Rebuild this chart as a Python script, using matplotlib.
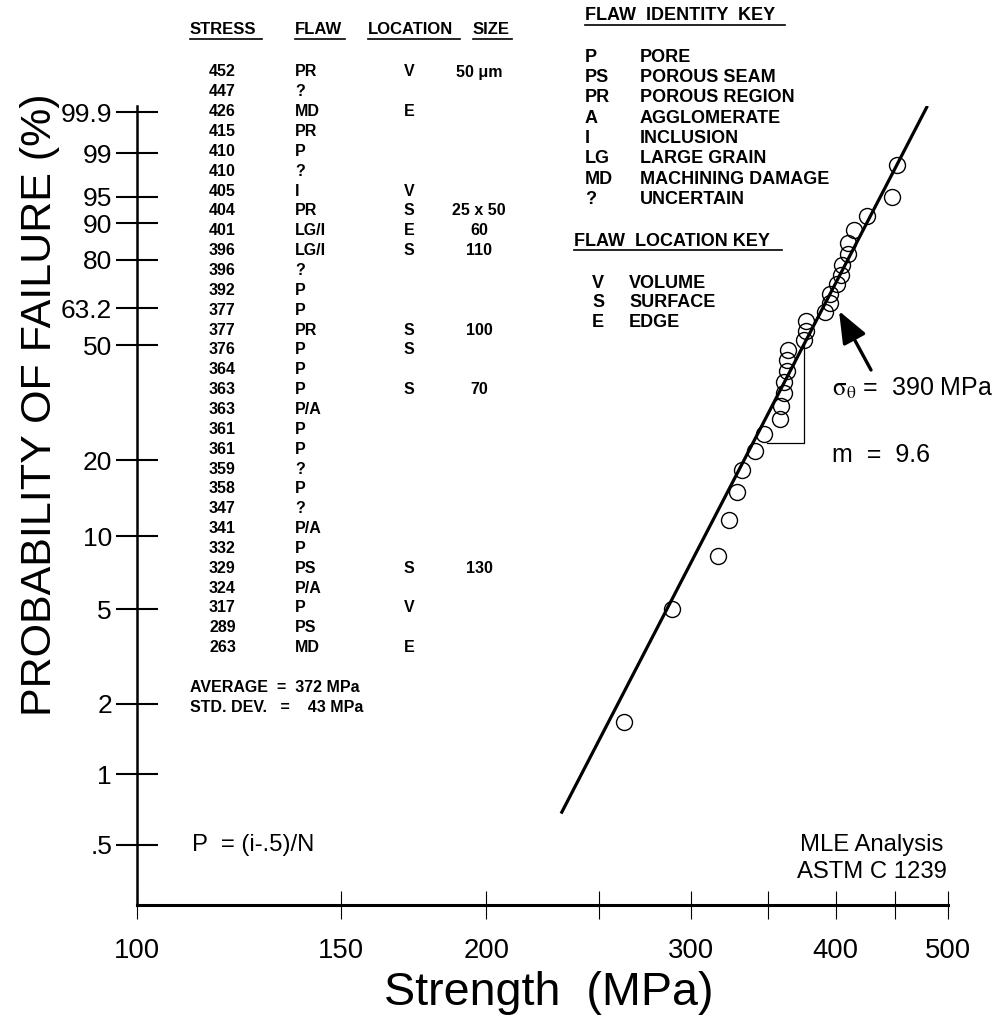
import numpy as np
import matplotlib
matplotlib.use("Agg")
import matplotlib.pyplot as plt
from matplotlib import font_manager
from matplotlib.lines import Line2D

# strength data (MPa) with fractographic flaw info, highest first
stress = [452, 447, 426, 415, 410, 410, 405, 404, 401, 396, 396, 392, 377, 377,
          376, 364, 363, 363, 361, 361, 359, 358, 347, 341, 332, 329, 324, 317,
          289, 263]
flaw = ['PR', '?', 'MD', 'PR', 'P', '?', 'I', 'PR', 'LG/I', 'LG/I', '?', 'P', 'P', 'PR',
        'P', 'P', 'P', 'P/A', 'P', 'P', '?', 'P', '?', 'P/A', 'P', 'PS', 'P/A', 'P',
        'PS', 'MD']
location = ['V', '', 'E', '', '', '', 'V', 'S', 'E', 'S', '', '', '', 'S',
            'S', '', 'S', '', '', '', '', '', '', '', '', 'S', '', 'V', '', 'E']
flaw_size = ['50 \u03bcm', '', '', '', '', '', '', '25 x 50', '60', '110', '', '', '', '100',
             '', '', '70', '', '', '', '', '', '', '', '', '130', '', '', '', '']

# MLE Weibull parameters
sigma_theta = 390.0
weibull_m = 9.6
fit_range = [232, 480]

average = 372
std_dev = 43

identity_codes = ['P', 'PS', 'PR', 'A', 'I', 'LG', 'MD', '?']
identity_names = ['PORE', 'POROUS SEAM', 'POROUS REGION', 'AGGLOMERATE', 'INCLUSION',
                  'LARGE GRAIN', 'MACHINING DAMAGE', 'UNCERTAIN']
location_codes = ['V', 'S', 'E']
location_names = ['VOLUME', 'SURFACE', 'EDGE']

prob_ticks = [0.5, 1, 2, 5, 10, 20, 50, 63.2, 80, 90, 95, 99, 99.9]
prob_labels = ['.5', '1', '2', '5', '10', '20', '50', '63.2', '80', '90', '95', '99', '99.9']
strength_ticks = [100, 150, 200, 250, 300, 350, 400, 450, 500]
strength_labels = ['100', '150', '200', '', '300', '', '400', '', '500']

# slope triangle (stress corners, probability of horizontal leg)
tri_stress = [349, 376]
tri_prob = 23.2

names = {f.name for f in font_manager.fontManager.ttflist}
has_narrow = 'Liberation Sans Narrow' in names
narrow = 'Liberation Sans Narrow' if has_narrow else 'Liberation Sans'
nscale = 1.0 if has_narrow else 0.86
plt.rcParams['font.family'] = 'Liberation Sans'
plt.rcParams['mathtext.fontset'] = 'stix'

W, H = 1005, 1034
fig = plt.figure(figsize=(W / 100, H / 100), dpi=100)


def fx(px):
    return px / W


def fy(py):
    return 1 - py / H


def weib(p):
    p = np.clip(np.asarray(p, dtype=float), 1e-6, 99.99999)
    return np.log(-np.log(1 - p / 100.0))


def weib_inv(w):
    return 100.0 * (1 - np.exp(-np.exp(w)))


ax_top, ax_bot = 106, 905
ax = fig.add_axes([fx(137), fy(ax_bot), fx(948) - fx(137), (ax_bot - ax_top) / H])
ax.set_xscale('log')
ax.set_yscale('function', functions=(weib, weib_inv))
ax.set_xlim(100, 500)
ax.set_ylim(weib_inv(-5.888), weib_inv(1.992))

# ranked data with P = (i-.5)/N
ranked = np.sort(stress)
n = len(ranked)
prob = (np.arange(1, n + 1) - 0.5) / n * 100
ax.plot(ranked, prob, 'o', mfc='none', mec='black', ms=11.5, mew=1.0, zorder=3)

fit_x = np.array(fit_range, dtype=float)
fit_p = weib_inv(weibull_m * np.log(fit_x / sigma_theta))
ax.plot(fit_x, fit_p, color='black', lw=2.3, solid_capstyle='butt', zorder=2)

# slope triangle
top_p = weib_inv(weibull_m * np.log(tri_stress[1] / sigma_theta))
ax.plot([tri_stress[0], tri_stress[1], tri_stress[1]], [tri_prob, tri_prob, top_p],
        color='black', lw=0.9)

for s in ['top', 'right']:
    ax.spines[s].set_visible(False)
ax.spines['left'].set_linewidth(1.8)
ax.spines['bottom'].set_linewidth(2.2)

ax.set_yticks(prob_ticks)
ax.set_yticklabels(prob_labels)
ax.yaxis.set_minor_locator(matplotlib.ticker.NullLocator())
ax.set_xticks(strength_ticks)
ax.set_xticklabels(strength_labels)
ax.xaxis.set_minor_locator(matplotlib.ticker.NullLocator())
ax.tick_params(axis='y', direction='inout', length=30, width=1.5, pad=3, labelsize=19)
ax.tick_params(axis='x', direction='inout', length=20, width=0.8, pad=14,
               labelsize=23 * nscale)
for lab in ax.get_xticklabels():
    lab.set_family(narrow)

fig.text(fx(40), fy(405), 'PROBABILITY OF FAILURE (%)', rotation=90, ha='center', va='center',
         fontsize=36 * nscale, family=narrow)
fig.text(fx(549), fy(993), 'Strength  (MPa)', ha='center', va='center',
         fontsize=39 * nscale, family=narrow)

# flaw table
tfs = 11.5
headers = [('STRESS', 190, 262), ('FLAW', 295, 345), ('LOCATION', 368, 460), ('SIZE', 473, 512)]
for txt, x0, x1 in headers:
    fig.text(fx(x0), fy(30), txt, ha='left', va='center', fontsize=12, fontweight='bold')
    fig.add_artist(Line2D([fx(x0), fx(x1)], [fy(39), fy(39)], color='black', lw=1.2))
for k in range(n):
    y = fy(72 + 19.85 * k)
    fig.text(fx(209), y, str(stress[k]), ha='left', va='center', fontsize=tfs, fontweight='bold')
    fig.text(fx(295), y, flaw[k], ha='left', va='center', fontsize=tfs, fontweight='bold')
    if location[k]:
        fig.text(fx(404), y, location[k], ha='left', va='center', fontsize=tfs, fontweight='bold')
    if flaw_size[k]:
        fig.text(fx(479), y, flaw_size[k], ha='center', va='center', fontsize=tfs,
                 fontweight='bold')
fig.text(fx(190), fy(688), 'AVERAGE  =  %d MPa' % average, ha='left', va='center',
         fontsize=tfs, fontweight='bold')
fig.text(fx(190), fy(707), 'STD. DEV.   =    %d MPa' % std_dev, ha='left', va='center',
         fontsize=tfs, fontweight='bold')

# keys
kfs = 13
fig.text(fx(585), fy(16), 'FLAW  IDENTITY  KEY', ha='left', va='center', fontsize=kfs,
         fontweight='bold')
fig.add_artist(Line2D([fx(585), fx(785)], [fy(25), fy(25)], color='black', lw=1.2))
for k, (c, nm) in enumerate(zip(identity_codes, identity_names)):
    y = fy(57 + 20.4 * k)
    fig.text(fx(585), y, c, ha='left', va='center', fontsize=kfs, fontweight='bold')
    fig.text(fx(640), y, nm, ha='left', va='center', fontsize=kfs, fontweight='bold')
fig.text(fx(574), fy(241), 'FLAW  LOCATION KEY', ha='left', va='center', fontsize=kfs,
         fontweight='bold')
fig.add_artist(Line2D([fx(574), fx(782)], [fy(250), fy(250)], color='black', lw=1.2))
for k, (c, nm) in enumerate(zip(location_codes, location_names)):
    y = fy(283 + 20 * k)
    fig.text(fx(592), y, c, ha='left', va='center', fontsize=kfs, fontweight='bold')
    fig.text(fx(629), y, nm, ha='left', va='center', fontsize=kfs, fontweight='bold')

# annotations
fig.text(fx(832), fy(388), r'$\mathrm{\sigma}_{\mathrm{\theta}}$' + ' =  %d MPa' % sigma_theta,
         ha='left', va='center', fontsize=18)
fig.text(fx(832), fy(455), 'm  =  %.1f' % weibull_m, ha='left', va='center', fontsize=18)
ax.annotate('', xy=(fx(839), fy(311)), xycoords='figure fraction',
            xytext=(fx(871), fy(370)), textcoords='figure fraction',
            arrowprops=dict(arrowstyle='-|>,head_width=0.3,head_length=0.75', lw=2.4,
                            color='black', mutation_scale=26, shrinkA=0, shrinkB=0))

fig.text(fx(192), fy(845), 'P  = (i-.5)/N', ha='left', va='center', fontsize=20 * nscale,
         family=narrow)
fig.text(fx(872), fy(845), 'MLE Analysis', ha='center', va='center', fontsize=20 * nscale,
         family=narrow)
fig.text(fx(872), fy(872), 'ASTM C 1239', ha='center', va='center', fontsize=20 * nscale,
         family=narrow)

fig.savefig('out.png', dpi=100)
